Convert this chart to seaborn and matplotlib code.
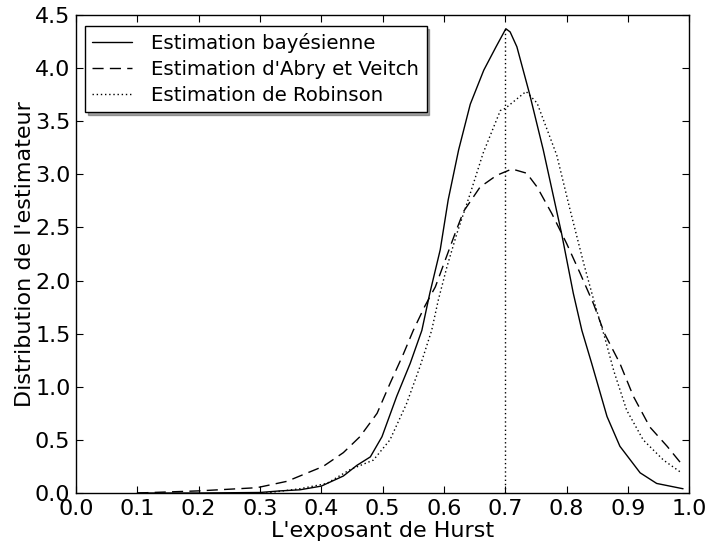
import numpy as np
import seaborn as sns
import matplotlib
matplotlib.use("Agg")
import matplotlib.pyplot as plt
from matplotlib.ticker import FormatStrFormatter

# values
x_bayes = [0.1, 0.2, 0.3, 0.333, 0.365, 0.40, 0.436, 0.458, 0.48, 0.499, 0.523, 0.545,
           0.564, 0.577, 0.594, 0.607, 0.624, 0.643, 0.665, 0.685, 0.701, 0.708, 0.719,
           0.74, 0.762, 0.792, 0.811, 0.825, 0.841, 0.866, 0.887, 0.92, 0.947, 0.99]
y_bayes = [0.0, 0.0, 0.005, 0.02, 0.03, 0.065, 0.16, 0.26, 0.34, 0.53, 0.91, 1.22,
           1.53, 1.88, 2.29, 2.76, 3.23, 3.66, 3.98, 4.2, 4.37, 4.34, 4.20,
           3.75, 3.23, 2.44, 1.88, 1.53, 1.22, 0.72, 0.44, 0.19, 0.09, 0.04]

x_abry = [0.1, 0.2, 0.295, 0.344, 0.365, 0.403, 0.436, 0.463, 0.491, 0.512, 0.534, 0.55,
          0.569, 0.586, 0.602, 0.618, 0.632, 0.659, 0.686, 0.711, 0.735, 0.752, 0.776,
          0.80, 0.822, 0.844, 0.862, 0.887, 0.909, 0.936, 0.964, 0.988]
y_abry = [0.0, 0.02, 0.05, 0.11, 0.16, 0.25, 0.38, 0.53, 0.75, 1.03, 1.31, 1.53,
          1.76, 1.94, 2.19, 2.44, 2.65, 2.88, 2.99, 3.05, 3.01, 2.88, 2.63,
          2.35, 2.07, 1.78, 1.50, 1.22, 0.91, 0.62, 0.44, 0.27]

x_rob = [0.31, 0.365, 0.409, 0.447, 0.485, 0.512, 0.539, 0.561, 0.58, 0.591, 0.605, 0.621,
         0.643, 0.664, 0.692, 0.70, 0.734, 0.752, 0.784, 0.806, 0.828, 0.847, 0.862,
         0.877, 0.898, 0.925, 0.958, 0.985]
y_rob = [0.0, 0.04, 0.09, 0.22, 0.31, 0.50, 0.84, 1.19, 1.53, 1.82, 2.13, 2.44,
         2.82, 3.20, 3.60, 3.62, 3.78, 3.67, 3.18, 2.66, 2.16, 1.76, 1.47,
         1.15, 0.78, 0.50, 0.31, 0.20]

h_true = 0.7

sns.set_style("ticks")
plt.rcParams["font.family"] = ["DejaVu Sans"]
plt.rcParams["xtick.direction"] = "in"
plt.rcParams["ytick.direction"] = "in"
plt.rcParams["text.color"] = "black"
plt.rcParams["axes.labelcolor"] = "black"
plt.rcParams["xtick.color"] = "black"
plt.rcParams["ytick.color"] = "black"

fig = plt.figure(figsize=(7.13, 5.47), dpi=100)
ax = fig.add_axes([0.1066, 0.0987, 0.860, 0.874])

sns.lineplot(x=x_bayes, y=y_bayes, color="black", lw=1.0, ax=ax,
             label="Estimation bayésienne")
sns.lineplot(x=x_abry, y=y_abry, color="black", lw=1.0, ls=(0, (8, 4.5)), ax=ax,
             label="Estimation d'Abry et Veitch")
sns.lineplot(x=x_rob, y=y_rob, color="black", lw=1.0, ls=(0, (1, 2)), ax=ax,
             label="Estimation de Robinson")
ax.vlines(h_true, 0, max(y_bayes), color="black", lw=1.0, ls=(0, (1, 2)))

ax.set_xlim(0, 1)
ax.set_ylim(0, 4.5)
ax.set_xticks(np.arange(0, 1.01, 0.1))
ax.set_yticks(np.arange(0, 4.51, 0.5))
ax.xaxis.set_major_formatter(FormatStrFormatter("%.1f"))
ax.yaxis.set_major_formatter(FormatStrFormatter("%.1f"))
ax.tick_params(top=True, right=True, labelsize=16, length=5, width=0.8, pad=4,
               colors="black")
for s in ax.spines.values():
    s.set_linewidth(1.0)
    s.set_color("black")

ax.set_xlabel("L'exposant de Hurst", fontsize=16, labelpad=2, color="black")
ax.set_ylabel("Distribution de l'estimateur", fontsize=16, labelpad=0, color="black")

leg = ax.legend(loc="upper left", fontsize=14.2, frameon=True, fancybox=False,
                shadow=True, handlelength=2.0, borderpad=0.37, labelspacing=0.35,
                handletextpad=1.0, borderaxespad=0,
                bbox_to_anchor=(0.0147, 0.977))
leg.get_frame().set_edgecolor("black")
leg.get_frame().set_linewidth(1.0)
for t in leg.get_texts():
    t.set_color("black")

fig.savefig("out.png", dpi=100)
